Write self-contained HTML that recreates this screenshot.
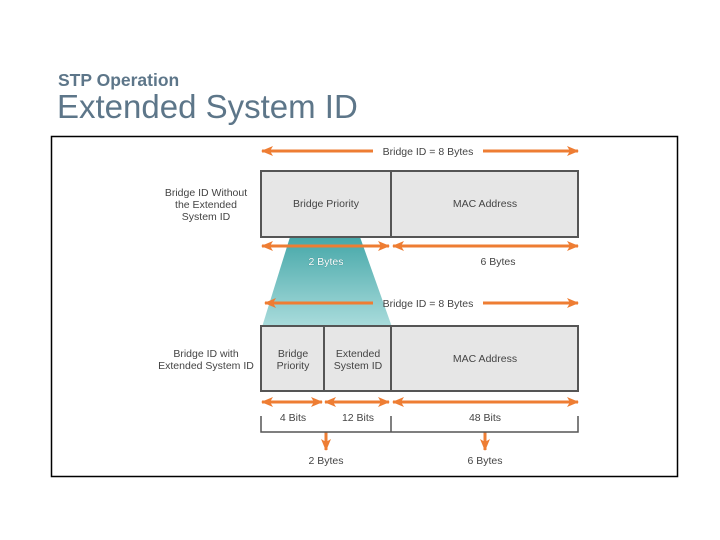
<!DOCTYPE html>
<html><head><meta charset="utf-8"><style>
html,body{margin:0;padding:0;background:#fff;}
body{width:720px;height:540px;overflow:hidden;position:relative;font-family:"Liberation Sans",sans-serif;}
.t1{position:absolute;left:58px;top:70px;font-size:17.5px;font-weight:bold;color:#5d7689;line-height:20px;}
.t2{position:absolute;left:57px;top:88px;font-size:33px;color:#5d7689;line-height:38px;}
svg{position:absolute;left:0;top:0;}
</style></head><body>
<div class="t1">STP Operation</div>
<div class="t2">Extended System ID</div>
<svg width="720" height="540" viewBox="0 0 720 540" font-family="Liberation Sans, sans-serif" font-size="10.5" fill="#444">
<defs>
<linearGradient id="g" x1="0" y1="0" x2="0" y2="1">
<stop offset="0" stop-color="#45a7a8"/><stop offset="1" stop-color="#aadcdc"/>
</linearGradient>
<marker id="a" viewBox="0 0 12 10" refX="11" refY="5" markerWidth="12" markerHeight="10" markerUnits="userSpaceOnUse" orient="auto-start-reverse">
<path d="M0,0 L12,5 L0,10 L3,5 Z" fill="#ee7d33"/>
</marker>
</defs>
<rect x="51.5" y="136.5" width="626" height="340" fill="none" stroke="#000" stroke-width="1.5"/>
<polygon points="290,237 360,237 392,327 262,327" fill="url(#g)"/>
<g stroke="#ee7d33" stroke-width="3" fill="none">
<line x1="262" y1="151" x2="373" y2="151" marker-start="url(#a)"/>
<line x1="483" y1="151" x2="578" y2="151" marker-end="url(#a)"/>
<line x1="262" y1="246" x2="389" y2="246" marker-start="url(#a)" marker-end="url(#a)"/>
<line x1="393" y1="246" x2="578" y2="246" marker-start="url(#a)" marker-end="url(#a)"/>
<line x1="265" y1="303" x2="373" y2="303" marker-start="url(#a)"/>
<line x1="483" y1="303" x2="578" y2="303" marker-end="url(#a)"/>
<line x1="262" y1="402" x2="322" y2="402" marker-start="url(#a)" marker-end="url(#a)"/>
<line x1="325" y1="402" x2="389" y2="402" marker-start="url(#a)" marker-end="url(#a)"/>
<line x1="393" y1="402" x2="578" y2="402" marker-start="url(#a)" marker-end="url(#a)"/>
<line x1="326" y1="432" x2="326" y2="450" marker-end="url(#a)"/>
<line x1="485" y1="432" x2="485" y2="450" marker-end="url(#a)"/>
</g>
<g fill="#e6e6e6" stroke="#555" stroke-width="2">
<rect x="261" y="171" width="317" height="66"/>
<line x1="391" y1="171" x2="391" y2="237"/>
<rect x="261" y="326" width="317" height="65"/>
<line x1="324" y1="326" x2="324" y2="391"/>
<line x1="391" y1="326" x2="391" y2="391"/>
</g>
<g stroke="#555" stroke-width="1.5" fill="none">
<polyline points="261,416 261,432 578,432 578,416"/>
<line x1="391" y1="416" x2="391" y2="432"/>
</g>
<g text-anchor="middle">
<text x="428" y="155">Bridge ID = 8 Bytes</text>
<text x="428" y="307">Bridge ID = 8 Bytes</text>
<text x="326" y="207">Bridge Priority</text>
<text x="485" y="207">MAC Address</text>
<text x="485" y="362">MAC Address</text>
<text x="293" y="357">Bridge</text><text x="293" y="369">Priority</text>
<text x="358" y="357">Extended</text><text x="358" y="369">System ID</text>
<text x="206" y="196">Bridge ID Without</text>
<text x="206" y="208">the Extended</text>
<text x="206" y="220">System ID</text>
<text x="206" y="357">Bridge ID with</text>
<text x="206" y="369">Extended System ID</text>
<text x="326" y="265" fill="#fff" stroke="#3f8f90" stroke-width="0.6" paint-order="stroke">2 Bytes</text>
<text x="498" y="265">6 Bytes</text>
<text x="293" y="421">4 Bits</text>
<text x="358" y="421">12 Bits</text>
<text x="485" y="421">48 Bits</text>
<text x="326" y="464">2 Bytes</text>
<text x="485" y="464">6 Bytes</text>
</g>
</svg>
</body></html>
